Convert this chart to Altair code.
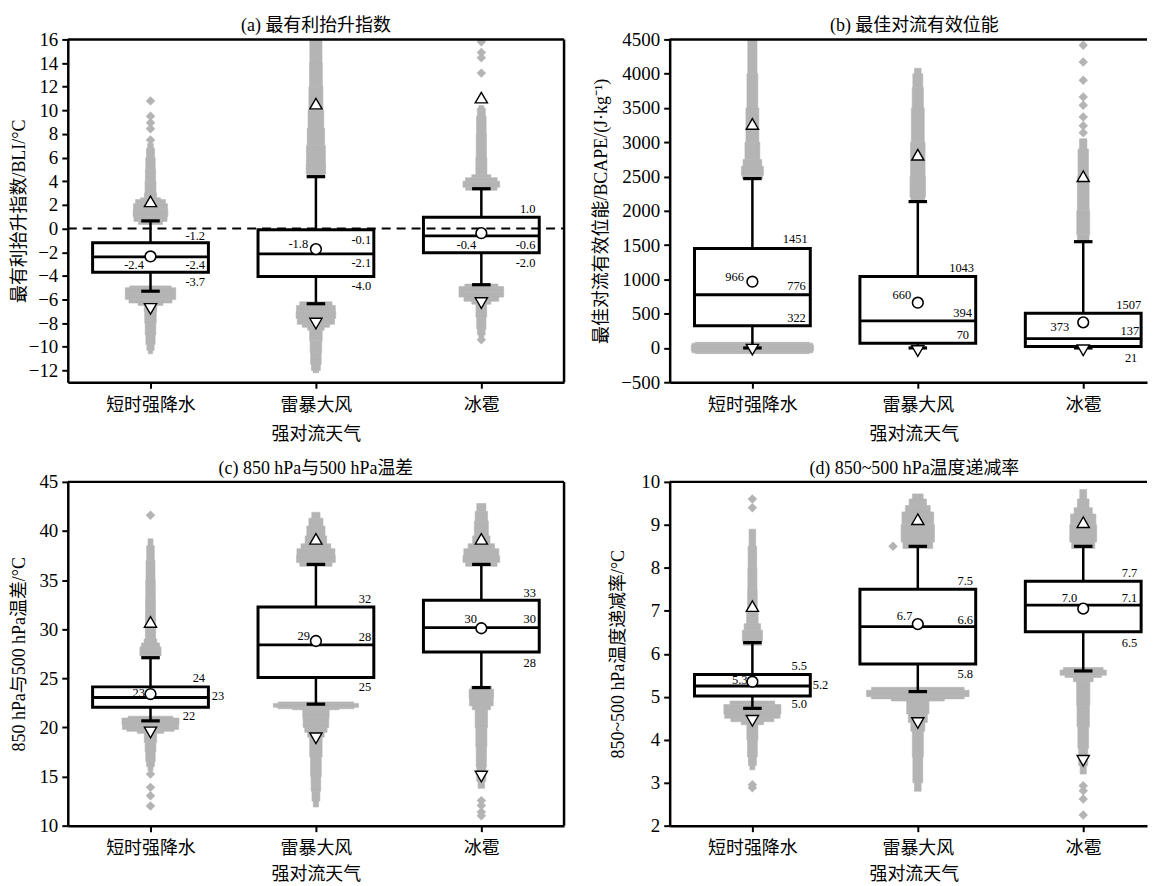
import altair as alt
import pandas as pd

FONT = "'Liberation Serif', 'Noto Sans CJK SC'"
GRAY = "#b4b4b4"
PX_PER_CAT = 166.0

CATS = ["短时强降水", "雷暴大风", "冰雹"]
XTITLE = "强对流天气"

# ---------------- (a) BLI ----------------
A_TITLE = "(a) 最有利抬升指数"
A_YTITLE = "最有利抬升指数/BLI/°C"
A_YTICKS = [-12, -10, -8, -6, -4, -2, 0, 2, 4, 6, 8, 10, 12, 14, 16]
A_YDOM = [-13, 16]
A_Q1 = [-3.7, -4.05, -2.05]
A_MED = [-2.4, -2.14, -0.62]
A_Q3 = [-1.2, -0.1, 0.96]
A_MEAN = [-2.36, -1.74, -0.39]
A_WLO = [-5.3, -6.36, -4.75]
A_WHI = [0.65, 4.39, 3.37]
A_PLO = [-6.8, -8.04, -6.3]
A_PHI = [2.3, 10.57, 11.08]
A_LQ3 = ["-1.2", "-0.1", "1.0"]
A_LMEAN = ["-2.4", "-1.8", "-0.4"]
A_LMED = ["-2.4", "-2.1", "-0.6"]
A_LQ1 = ["-3.7", "-4.0", "-2.0"]
A_SWARM = [
    (1, [(0.35, 0.05), (0.6, 0.095), (1.0, 0.105), (1.6, 0.105), (2.1, 0.1), (2.45, 0.08), (2.6, 0.04),
         (3.0, 0.034), (4.0, 0.032), (5.0, 0.03), (6.0, 0.027), (6.8, 0.022), (7.2, 0.012)]),
    (1, [(-4.85, 0.1), (-5.0, 0.15), (-5.5, 0.155), (-6.0, 0.15), (-6.3, 0.11), (-6.5, 0.04), (-7.0, 0.036),
         (-8.0, 0.034), (-9.0, 0.03), (-9.8, 0.026), (-10.3, 0.018), (-10.6, 0.008)]),
    (2, [(4.3, 0.045), (4.6, 0.058), (5.5, 0.06), (7.0, 0.055), (8.5, 0.05), (10.0, 0.045), (12.0, 0.04),
         (14.0, 0.038), (16.0, 0.036)]),
    (2, [(-6.2, 0.08), (-6.5, 0.115), (-7.0, 0.12), (-7.6, 0.12), (-8.1, 0.105), (-8.35, 0.06), (-8.6, 0.04),
         (-9.5, 0.036), (-10.5, 0.034), (-11.5, 0.03), (-12.0, 0.024), (-12.2, 0.01)]),
    (3, [(3.25, 0.08), (3.5, 0.11), (4.0, 0.112), (4.3, 0.08), (4.55, 0.035), (6.0, 0.032), (8.0, 0.03),
         (9.5, 0.028), (10.2, 0.02), (10.4, 0.01)]),
    (3, [(-4.7, 0.07), (-4.9, 0.13), (-5.3, 0.14), (-5.8, 0.13), (-6.15, 0.08), (-6.4, 0.035), (-7.5, 0.03),
         (-8.5, 0.026), (-9.0, 0.02), (-9.2, 0.01)]),
]
A_DIAM = [(1, 7.5, 0), (1, 8.45, 0), (1, 8.95, 0), (1, 9.5, 0), (1, 10.8, 0),
          (3, 13.15, 0), (3, 14.45, 0), (3, 14.9, 0), (3, 15.8, 0), (3, -9.4, 0)]

# ---------------- (b) BCAPE ----------------
B_TITLE = "(b) 最佳对流有效位能"
B_YTITLE = "最佳对流有效位能/BCAPE/(J·kg⁻¹)"
B_YTICKS = [-500, 0, 500, 1000, 1500, 2000, 2500, 3000, 3500, 4000, 4500]
B_YDOM = [-500, 4500]
B_Q1 = [322, 70, 21]
B_MED = [776, 394, 137]
B_Q3 = [1451, 1043, 507]
B_MEAN = [966, 660, 373]
B_WLO = [0, 0, 0]
B_WHI = [2470, 2135, 1550]
B_PLO = [-25, -45, -35]
B_PHI = [3267, 2818, 2504]
B_LQ3 = ["1451", "1043", "1507"]
B_LMEAN = ["966", "660", "373"]
B_LMED = ["776", "394", "137"]
B_LQ1 = ["322", "70", "21"]
B_SWARM = [
    (1, [(2470, 0.055), (2520, 0.068), (2650, 0.065), (2750, 0.048), (3000, 0.042), (3500, 0.036),
         (4000, 0.03), (4500, 0.026)]),
    (1, [(-82, 0.33), (-70, 0.36), (-40, 0.37), (40, 0.37), (70, 0.36), (82, 0.33)]),
    (2, [(2130, 0.035), (2200, 0.048), (2500, 0.046), (3000, 0.042), (3500, 0.036), (3800, 0.032),
         (4000, 0.028), (4080, 0.012)]),
    (3, [(1550, 0.03), (1650, 0.04), (2000, 0.038), (2500, 0.033), (2900, 0.03), (3050, 0.015)]),
]
B_DIAM = [(3, 3140, 0), (3, 3240, 0), (3, 3370, 0), (3, 3540, 0), (3, 3660, 0), (3, 3905, 0),
          (3, 4170, 0), (3, 4415, 0)]

# ---------------- (c) 850-500 temperature difference ----------------
C_TITLE = "(c) 850 hPa与500 hPa温差"
C_YTITLE = "850 hPa与500 hPa温差/°C"
C_YTICKS = [10, 15, 20, 25, 30, 35, 40, 45]
C_YDOM = [10, 45]
C_Q1 = [22.06, 25.08, 27.69]
C_MED = [23.05, 28.4, 30.16]
C_Q3 = [24.13, 32.26, 32.94]
C_MEAN = [23.4, 28.8, 30.1]
C_WLO = [20.67, 22.37, 24.06]
C_WHI = [27.1, 36.6, 36.6]
C_PLO = [19.49, 18.9, 15.0]
C_PHI = [30.74, 39.2, 39.2]
C_LQ3 = ["24", "32", "33"]
C_LMEAN = ["23", "29", "30"]
C_LMED = ["23", "28", "30"]
C_LQ1 = ["22", "25", "28"]
C_SWARM = [
    (1, [(27.0, 0.04), (27.3, 0.063), (28.2, 0.065), (28.6, 0.045), (29.0, 0.032), (31.0, 0.03), (33.0, 0.03),
         (35.0, 0.028), (37.0, 0.026), (38.5, 0.02), (39.2, 0.01)]),
    (1, [(21.15, 0.1), (20.95, 0.17), (20.3, 0.175), (19.8, 0.165), (19.6, 0.12), (19.4, 0.04), (18.5, 0.035),
         (17.5, 0.03), (16.5, 0.027), (16.0, 0.02), (15.6, 0.01)]),
    (2, [(36.4, 0.08), (36.8, 0.115), (37.5, 0.12), (38.2, 0.11), (38.7, 0.07), (39.5, 0.06), (40.5, 0.05),
         (41.3, 0.035), (41.9, 0.015)]),
    (2, [(22.6, 0.2), (22.45, 0.255), (22.05, 0.26), (21.9, 0.2), (21.8, 0.08), (21.0, 0.08), (20.0, 0.075),
         (19.5, 0.06), (19.0, 0.04), (17.0, 0.035), (15.0, 0.03), (13.5, 0.028), (12.5, 0.02), (11.9, 0.012)]),
    (3, [(36.4, 0.08), (36.8, 0.11), (37.5, 0.112), (38.2, 0.1), (38.7, 0.06), (39.5, 0.045), (41.0, 0.04),
         (42.0, 0.035), (42.8, 0.02)]),
    (3, [(24.2, 0.05), (23.9, 0.074), (23.0, 0.074), (22.2, 0.07), (21.8, 0.04), (20.0, 0.035), (18.0, 0.032),
         (16.0, 0.03), (14.5, 0.025), (13.8, 0.015)]),
]
C_DIAM = [(1, 41.6, 0), (1, 15.25, 0), (1, 13.9, 0), (1, 13.05, 0), (1, 12.0, 0),
          (3, 12.55, 0), (3, 12.05, 0), (3, 11.4, 0), (3, 11.0, 0)]

# ---------------- (d) 850-500 lapse rate ----------------
D_TITLE = "(d) 850~500 hPa温度递减率"
D_YTITLE = "850~500 hPa温度递减率/°C"
D_YTICKS = [2, 3, 4, 5, 6, 7, 8, 9, 10]
D_YDOM = [2, 10]
D_Q1 = [5.02, 5.76, 6.51]
D_MED = [5.25, 6.63, 7.13]
D_Q3 = [5.52, 7.5, 7.69]
D_MEAN = [5.35, 6.69, 7.05]
D_WLO = [4.73, 5.12, 5.6]
D_WHI = [6.26, 8.5, 8.5]
D_PLO = [4.44, 4.39, 3.51]
D_PHI = [7.11, 9.13, 9.06]
D_LQ3 = ["5.5", "7.5", "7.7"]
D_LMEAN = ["5.3", "6.7", "7.0"]
D_LMED = ["5.2", "6.6", "7.1"]
D_LQ1 = ["5.0", "5.8", "6.5"]
D_SWARM = [
    (1, [(6.2, 0.05), (6.3, 0.062), (6.55, 0.06), (6.7, 0.04), (7.0, 0.03), (7.5, 0.028), (8.0, 0.027),
         (8.5, 0.025), (8.9, 0.015)]),
    (1, [(4.9, 0.1), (4.82, 0.17), (4.6, 0.175), (4.5, 0.16), (4.42, 0.1), (4.35, 0.035), (4.0, 0.032),
         (3.6, 0.028), (3.4, 0.02), (3.3, 0.01)]),
    (2, [(8.45, 0.08), (8.6, 0.1), (9.0, 0.102), (9.3, 0.09), (9.45, 0.06), (9.6, 0.045), (9.72, 0.02)]),
    (2, [(5.22, 0.25), (5.15, 0.31), (5.0, 0.31), (4.95, 0.25), (4.9, 0.07), (4.6, 0.065), (4.4, 0.05),
         (4.2, 0.035), (3.6, 0.032), (3.0, 0.028), (2.8, 0.012)]),
    (3, [(8.45, 0.06), (8.6, 0.08), (9.0, 0.083), (9.25, 0.07), (9.4, 0.04), (9.6, 0.03), (9.82, 0.012)]),
    (3, [(5.68, 0.1), (5.62, 0.14), (5.5, 0.14), (5.45, 0.08), (5.35, 0.04), (4.8, 0.04), (4.3, 0.035),
         (3.8, 0.03), (3.4, 0.025), (3.2, 0.012)]),
]
D_DIAM = [(1, 9.4, 0), (1, 9.6, 0), (1, 2.95, 0), (1, 2.88, 0), (2, 8.5, -0.15),
          (3, 2.93, 0), (3, 2.81, 0), (3, 2.62, 0), (3, 2.25, 0)]

# ---------------- label placement (x offset in category units, pixel dy, align) ----------------
PLACE = {
    "a": {"q3": [(0.33, -6.3, "right"), (0.334, 10.8, "right"), (0.327, -8.3, "right")],
          "mean": [(-0.04, 8.3, "right"), (-0.047, -5, "right"), (-0.031, 11.7, "right")],
          "med": [(0.33, 8, "right"), (0.334, 9.3, "right"), (0.327, 9, "right")],
          "q1": [(0.33, 10, "right"), (0.334, 9.3, "right"), (0.327, 10, "right")]},
    "b": {"q3": [(0.334, -9.8, "right"), (0.34, -8, "right"), (0.35, -8.2, "right")],
          "mean": [(-0.051, -5, "right"), (-0.04, -7.3, "right"), (-0.085, 4.3, "right")],
          "med": [(0.323, -8.3, "right"), (0.327, -8, "right"), (0.338, -8, "right")],
          "q1": [(0.323, -7.6, "right"), (0.31, -8.6, "right"), (0.327, 11.7, "right")]},
    "c": {"q3": [(0.33, -9.3, "right"), (0.334, -7.7, "right"), (0.33, -7.7, "right")],
          "mean": [(-0.034, -1, "right"), (-0.036, -5, "right"), (-0.027, -9, "right")],
          "med": [(0.37, -1.7, "left"), (0.334, -8.3, "right"), (0.33, -8.3, "right")],
          "q1": [(0.27, 8.7, "right"), (0.334, 9.3, "right"), (0.33, 11.3, "right")]},
    "d": {"q3": [(0.33, -8.5, "right"), (0.334, -8.3, "right"), (0.327, -8.3, "right")],
          "mean": [(-0.029, -1.8, "right"), (-0.033, -8.3, "right"), (-0.036, -11, "right")],
          "med": [(0.365, -0.7, "left"), (0.334, -6.7, "right"), (0.327, -7.7, "right")],
          "q1": [(0.33, 8.3, "right"), (0.334, 10, "right"), (0.327, 10.7, "right")]},
}

PANELS = {
    "a": dict(title=A_TITLE, ytitle=A_YTITLE, yticks=A_YTICKS, ydom=A_YDOM,
              q1=A_Q1, med=A_MED, q3=A_Q3, mean=A_MEAN, wlo=A_WLO, whi=A_WHI, plo=A_PLO, phi=A_PHI,
              lq3=A_LQ3, lmean=A_LMEAN, lmed=A_LMED, lq1=A_LQ1, swarm=A_SWARM, diam=A_DIAM,
              width=498, height=344, ext=36, tpad=3, zero=True, right=True, tdx=0, tx=249, xtp=11),
    "b": dict(title=B_TITLE, ytitle=B_YTITLE, yticks=B_YTICKS, ydom=B_YDOM,
              q1=B_Q1, med=B_MED, q3=B_Q3, mean=B_MEAN, wlo=B_WLO, whi=B_WHI, plo=B_PLO, phi=B_PHI,
              lq3=B_LQ3, lmean=B_LMEAN, lmed=B_LMED, lq1=B_LQ1, swarm=B_SWARM, diam=B_DIAM,
              width=479, height=344, ext=50, tpad=9, zero=False, right=False, tdx=6, tx=245, xtp=11),
    "c": dict(title=C_TITLE, ytitle=C_YTITLE, yticks=C_YTICKS, ydom=C_YDOM,
              q1=C_Q1, med=C_MED, q3=C_Q3, mean=C_MEAN, wlo=C_WLO, whi=C_WHI, plo=C_PLO, phi=C_PHI,
              lq3=C_LQ3, lmean=C_LMEAN, lmed=C_LMED, lq1=C_LQ1, swarm=C_SWARM, diam=C_DIAM,
              width=498, height=345, ext=33, tpad=6, zero=False, right=True, tdx=0, tx=249, xtp=8),
    "d": dict(title=D_TITLE, ytitle=D_YTITLE, yticks=D_YTICKS, ydom=D_YDOM,
              q1=D_Q1, med=D_MED, q3=D_Q3, mean=D_MEAN, wlo=D_WLO, whi=D_WHI, plo=D_PLO, phi=D_PHI,
              lq3=D_LQ3, lmean=D_LMEAN, lmed=D_LMED, lq1=D_LQ1, swarm=D_SWARM, diam=D_DIAM,
              width=479, height=345, ext=29, tpad=13, zero=False, right=False, tdx=6, tx=245, xtp=8),
}

BOX_HW = 0.35
CAP_HW = 0.056
LABEL_EXPR = "[" + ",".join("'" + c + "'" for c in CATS) + "][datum.value - 1]"


def make_panel(key):
    p = PANELS[key]
    W, H = p["width"], p["height"]
    xdom = [0.5, 0.5 + W / PX_PER_CAT]
    xs = alt.Scale(domain=xdom, nice=False, zero=False)
    ys = alt.Scale(domain=p["ydom"], nice=False, zero=False)
    xaxis = alt.Axis(values=[1, 2, 3], labelExpr=LABEL_EXPR, title=XTITLE, labelFontSize=18,
                     labelPadding=8, titlePadding=p["xtp"], titleX=p["tx"], grid=False)
    yaxis = alt.Axis(values=p["yticks"], format="d", title=p["ytitle"], minExtent=p["ext"],
                     maxExtent=p["ext"], titlePadding=p["tpad"], labelPadding=4, grid=False)

    def X(f):
        return alt.X(f, type="quantitative", scale=xs, axis=xaxis)

    def Y(f):
        return alt.Y(f, type="quantitative", scale=ys, axis=yaxis)

    cats = [1, 2, 3]
    # swarm silhouettes, drawn as thin horizontal strips between consecutive profile samples
    srows = []
    for c, prof in p["swarm"]:
        for (v0, h0), (v1, h1) in zip(prof[:-1], prof[1:]):
            hw = (h0 + h1) / 2.0
            srows.append(dict(y0=v0, y1=v1, lo=c - hw, hi=c + hw))
    sdf = pd.DataFrame(srows)
    swarm = alt.Chart(sdf).mark_rect(color=GRAY, clip=True, opacity=1, stroke=GRAY, strokeWidth=0.6).encode(
        x=X("lo"), x2="hi", y=Y("y0"), y2="y1")

    ddf = pd.DataFrame([dict(x=c + dx, v=v) for c, v, dx in p["diam"]])
    diam = alt.Chart(ddf).mark_point(shape="diamond", filled=True, color=GRAY, size=90, opacity=1,
                                     clip=True).encode(x=X("x"), y=Y("v"))

    wdf = pd.DataFrame(
        [dict(x=c, y1=p["q3"][i], y2=p["whi"][i]) for i, c in enumerate(cats)] +
        [dict(x=c, y1=p["q1"][i], y2=p["wlo"][i]) for i, c in enumerate(cats)])
    whisk = alt.Chart(wdf).mark_rule(color="black", strokeWidth=2.5).encode(x=X("x"), y=Y("y1"), y2="y2")

    cdf = pd.DataFrame([dict(lo=c - CAP_HW, hi=c + CAP_HW, y=w)
                        for i, c in enumerate(cats) for w in (p["whi"][i], p["wlo"][i])])
    caps = alt.Chart(cdf).mark_rule(color="black", strokeWidth=3.2).encode(x=X("lo"), x2="hi", y=Y("y"))

    bdf = pd.DataFrame([dict(lo=c - BOX_HW, hi=c + BOX_HW, q1=p["q1"][i], q3=p["q3"][i], med=p["med"][i])
                        for i, c in enumerate(cats)])
    box = alt.Chart(bdf).mark_rect(fill="white", stroke="black", strokeWidth=3).encode(
        x=X("lo"), x2="hi", y=Y("q1"), y2="q3")
    med = alt.Chart(bdf).mark_rule(color="black", strokeWidth=2.8).encode(x=X("lo"), x2="hi", y=Y("med"))

    layers = [swarm, diam, whisk, caps, box, med]

    if p["zero"]:
        zdf = pd.DataFrame([dict(x0=xdom[0], x1=xdom[1], y=0)])
        layers.append(alt.Chart(zdf).mark_rule(color="black", strokeWidth=2, strokeDash=[9, 6]).encode(
            x=X("x0"), x2="x1", y=Y("y")))

    mdf = pd.DataFrame([dict(x=c, v=p["mean"][i]) for i, c in enumerate(cats)])
    layers.append(alt.Chart(mdf).mark_point(shape="circle", filled=True, fill="white", stroke="black",
                                            strokeWidth=1.6, size=115, opacity=1).encode(x=X("x"), y=Y("v")))
    tudf = pd.DataFrame([dict(x=c, v=p["phi"][i]) for i, c in enumerate(cats)])
    tddf = pd.DataFrame([dict(x=c, v=p["plo"][i]) for i, c in enumerate(cats)])
    layers.append(alt.Chart(tudf).mark_point(shape="triangle-up", filled=True, fill="white", stroke="black",
                                             strokeWidth=1.4, size=150, opacity=1).encode(x=X("x"), y=Y("v")))
    layers.append(alt.Chart(tddf).mark_point(shape="triangle-down", filled=True, fill="white", stroke="black",
                                             strokeWidth=1.4, size=150, opacity=1).encode(x=X("x"), y=Y("v")))

    # text labels
    span = p["ydom"][1] - p["ydom"][0]
    place = PLACE[key]
    lrows = []
    for stat, lkey in (("q3", "lq3"), ("mean", "lmean"), ("med", "lmed"), ("q1", "lq1")):
        for i, c in enumerate(cats):
            xo, dy, al = place[stat][i]
            lrows.append(dict(x=c + xo, yl=p[stat][i] - dy * span / H, text=p[lkey][i], align=al))
    ldf = pd.DataFrame(lrows)
    for al in ("right", "left"):
        sub = ldf[ldf["align"] == al]
        if len(sub):
            layers.append(alt.Chart(sub).mark_text(font=FONT, fontSize=12.5, align=al, baseline="middle",
                                                   color="black").encode(x=X("x"), y=Y("yl"), text="text:N"))

    # frame: top and (optionally) right border
    one = alt.Data(values=[{"k": 1}])
    layers.append(alt.Chart(one).mark_rule(color="black", strokeWidth=2.5).encode(
        x=alt.value(0), x2=alt.value(W), y=alt.value(0)))
    if p["right"]:
        layers.append(alt.Chart(one).mark_rule(color="black", strokeWidth=2.5).encode(
            x=alt.value(W), y=alt.value(0), y2=alt.value(H)))

    return alt.layer(*layers).properties(
        width=W, height=H,
        title=alt.TitleParams(text=p["title"], font=FONT, fontSize=18, fontWeight="normal", color="black",
                              offset=-5, frame="group", anchor="middle", dx=p["tdx"]))


row1 = alt.hconcat(make_panel("a"), make_panel("b"), spacing=27)
row2 = alt.hconcat(make_panel("c"), make_panel("d"), spacing=44)
chart = alt.vconcat(row1, row2, spacing=17).configure(
    padding={"left": 3, "top": 8, "right": 0, "bottom": 0}, background="white"
).configure_view(stroke=None).configure_axis(
    domainColor="black", domainWidth=2.5, tickColor="black", tickWidth=2, tickSize=6,
    labelFont=FONT, labelFontSize=19, labelColor="black", titleFont=FONT, titleFontSize=18,
    titleFontWeight="normal", titleColor="black", grid=False
)

chart.save("out.html", embed_options={"renderer": "svg", "actions": False})
